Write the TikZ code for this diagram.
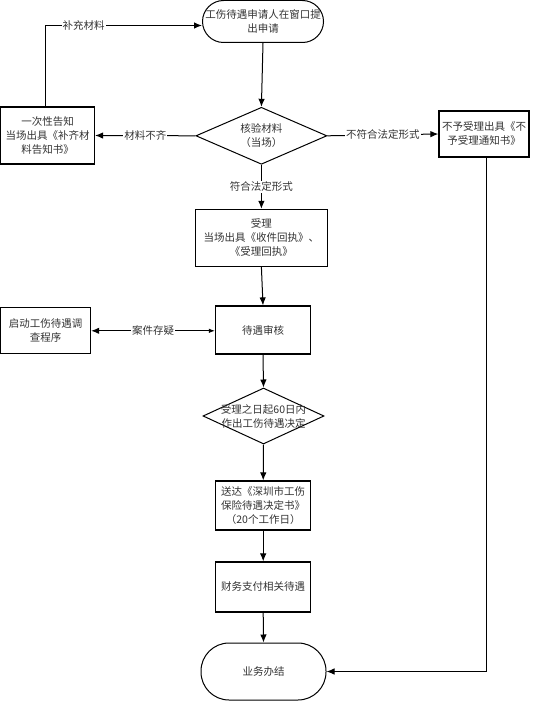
\documentclass[tikz,border=0pt]{standalone}
\usepackage{fontspec}
\setmainfont{Noto Sans CJK SC}
\usetikzlibrary{shapes.geometric,arrows.meta}
\begin{document}
\begin{tikzpicture}[x=1pt,y=-1pt,
  font=\fontsize{10.5}{14}\selectfont,
  every node/.append style={text=black!80},
  box/.style={draw=black,line width=1.2pt,align=center,inner sep=1pt},
  term/.style={draw=black,line width=1pt,align=center,inner sep=1pt},
  dia/.style={diamond,draw=black,line width=1pt,inner sep=0pt},
  arr/.style={draw=black,line width=1pt,-{Latex[length=8pt,width=6.5pt]}},
  arrboth/.style={draw=black,line width=1pt,{Latex[length=8pt,width=6.5pt]}-{Latex[length=6pt,width=4.5pt]}},
  lab/.style={fill=white,inner sep=1pt}]
\useasboundingbox (0,0) rectangle (534,701);
\fill[white] (0,0) rectangle (534,701);

\node[term,rounded corners=21pt,minimum width=121pt,minimum height=42pt] (start) at (263,21.5) {工伤待遇申请人在窗口提\\出申请};
\node[dia,minimum width=131pt,minimum height=57pt] (d1) at (261.4,135.8) {};
\node[align=center] at (d1) {核验材料\\（当场）};
\node[box,minimum width=94pt,minimum height=57pt] (lb) at (47.5,135.5) {一次性告知\\当场出具《补齐材\\料告知书》};
\node[box,minimum width=90pt,minimum height=46pt] (rb) at (484,134) {不予受理出具《不\\予受理通知书》};
\node[box,minimum width=132pt,minimum height=57pt] (acc) at (261.4,237.9) {受理\\当场出具《收件回执》、\\《受理回执》};
\node[box,minimum width=95pt,minimum height=48pt] (rev) at (263,330) {待遇审核};
\node[box,minimum width=90pt,minimum height=46pt] (inv) at (45.6,330.8) {启动工伤待遇调\\查程序};
\node[dia,minimum width=121pt,minimum height=56pt] (d2) at (263.5,416) {};
\node[align=center] at (d2) {受理之日起60日内\\作出工伤待遇决定};
\node[box,minimum width=95pt,minimum height=49pt] (send) at (263.2,505.5) {送达《深圳市工伤\\保险待遇决定书》\\（20个工作日）};
\node[box,minimum width=95pt,minimum height=50pt] (pay) at (263.2,587) {财务支付相关待遇};
\node[term,rounded corners=28pt,minimum width=125pt,minimum height=57pt] (end) at (263.5,671.5) {业务办结};

\coordinate (tl) at (45.3,25.5);
\draw[arr] (start.south) -- (d1.north);
\draw[arr] (lb.north -| tl) -- (tl) -- node[lab,pos=0.245]{补充材料} (tl -| start.west);
\draw[arr] (d1.west) -- node[lab]{材料不齐} (lb.east);
\draw[arr] (d1.east) -- node[lab]{不符合法定形式} (rb.west);
\draw[arr] (d1.south) -- node[lab,pos=0.5]{符合法定形式} (acc.north);
\draw[arr] (acc.south) -- (rev.north);
\draw[arrboth] (inv.east) -- node[lab,pos=0.5]{案件存疑} (inv.east -| rev.west);
\draw[arr] (rev.south) -- (d2.north);
\draw[arr] (d2.south) -- (send.north);
\draw[arr] (send.south) -- (pay.north);
\draw[arr] (pay.south) -- (end.north);
\draw[arr] (rb.south -| 486,0) |- (end.east);
\end{tikzpicture}
\end{document}
